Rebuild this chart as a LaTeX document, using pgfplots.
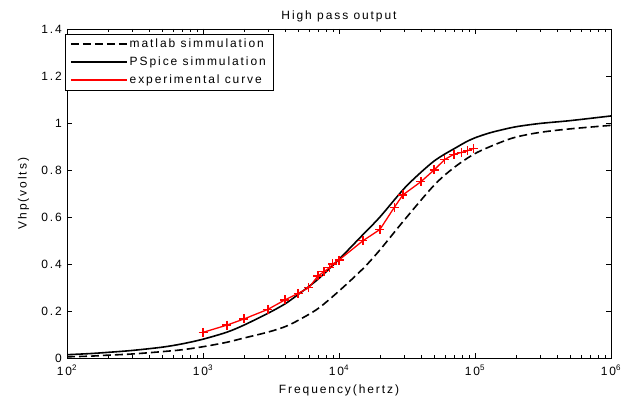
\documentclass[border=0pt]{standalone}
\usepackage{pgfplots}
\pgfplotsset{compat=1.18}
\usepackage{fontspec}
\setmainfont{Liberation Sans}[LetterSpace=16]
\newcommand{\ff}{\fontsize{12}{13.5}\selectfont}
\begin{document}
\ff
\begin{tikzpicture}[x=1pt,y=1pt]
\begin{axis}[
  scale only axis, width=544pt, height=329pt,
  xmode=log, xmin=100, xmax=1000000, ymin=0, ymax=1.4,
  xtick={100,1000,10000,100000,1000000},
  xticklabels={10\textsuperscript{2},10\textsuperscript{3},10\textsuperscript{4},10\textsuperscript{5},10\textsuperscript{6}},
  ytick={0,0.2,0.4,0.6,0.8,1,1.2,1.4},
  /pgf/number format/assume math mode=true,
  tick label style={font=\ff},
  xticklabel style={yshift=-3pt},
  yticklabel style={xshift=-1pt},
  label style={font=\ff},
  title style={font=\ff, yshift=-3pt},
  title={High pass output},
  xlabel={Frequency(hertz)}, ylabel={Vhp(volts)},
  xlabel style={yshift=-1pt}, ylabel style={yshift=4pt},
  tick align=inside, major tick length=5pt, minor tick length=3pt,
  axis line style={line width=0.6pt}, every tick/.style={black, line width=0.5pt},
  legend cell align=left,
  legend style={at={(-0.004,0.986)}, anchor=north west, draw=black, line width=0.6pt,
    font=\ff, inner xsep=5pt, inner ysep=3pt, row sep=3.5pt},
  legend image code/.code={\draw[#1] (0pt,0pt) -- (56pt,0pt);},
]
\addplot[black, line width=1.6pt, dash pattern=on 8pt off 4pt, smooth] coordinates {
(100,0.005) (150,0.008) (200,0.012) (300,0.017) (500,0.027) (700,0.035)
(1000,0.048) (1500,0.067) (2000,0.085) (3000,0.11) (4000,0.133) (5000,0.16)
(7000,0.21) (10000,0.285) (15000,0.38) (20000,0.46) (30000,0.585) (50000,0.735)
(70000,0.81) (100000,0.87) (150000,0.915) (200000,0.94) (300000,0.96)
(500000,0.975) (1000000,0.99)};
\addlegendentry{matlab simmulation}
\addplot[black, line width=1.6pt, smooth] coordinates {
(100,0.014) (150,0.019) (200,0.024) (300,0.032) (500,0.046) (700,0.06)
(1000,0.08) (1500,0.11) (2000,0.14) (3000,0.19) (4000,0.23) (5000,0.27)
(7000,0.335) (10000,0.42) (15000,0.525) (20000,0.6) (30000,0.72)
(40000,0.79) (50000,0.838) (60000,0.868) (70000,0.89) (85000,0.918) (100000,0.937)
(125000,0.956) (150000,0.968) (200000,0.984) (300000,0.998) (500000,1.01) (1000000,1.03)};
\addlegendentry{PSpice simmulation}
\addplot[red, line width=1.3pt, mark=+, mark size=4.5pt, mark options={line width=1.3pt}] coordinates {
(1000,0.109) (1500,0.14) (2000,0.166) (3000,0.207) (4000,0.247) (5000,0.275)
(6000,0.299) (7000,0.349) (7750,0.367) (8500,0.384) (9000,0.40) (10000,0.417)
(15000,0.499) (20000,0.547) (25500,0.641) (29500,0.694) (40000,0.75)
(50000,0.80) (60000,0.845) (70000,0.867) (80000,0.875) (88000,0.882) (98000,0.892)};
\addlegendentry{experimental curve}
\end{axis}
\path (current axis.south west) ++(-67pt,-43pt) coordinate (bbA);
\path (current axis.north east) ++(21pt,29pt) coordinate (bbB);
\useasboundingbox (bbA) rectangle (bbB);
\end{tikzpicture}
\end{document}
